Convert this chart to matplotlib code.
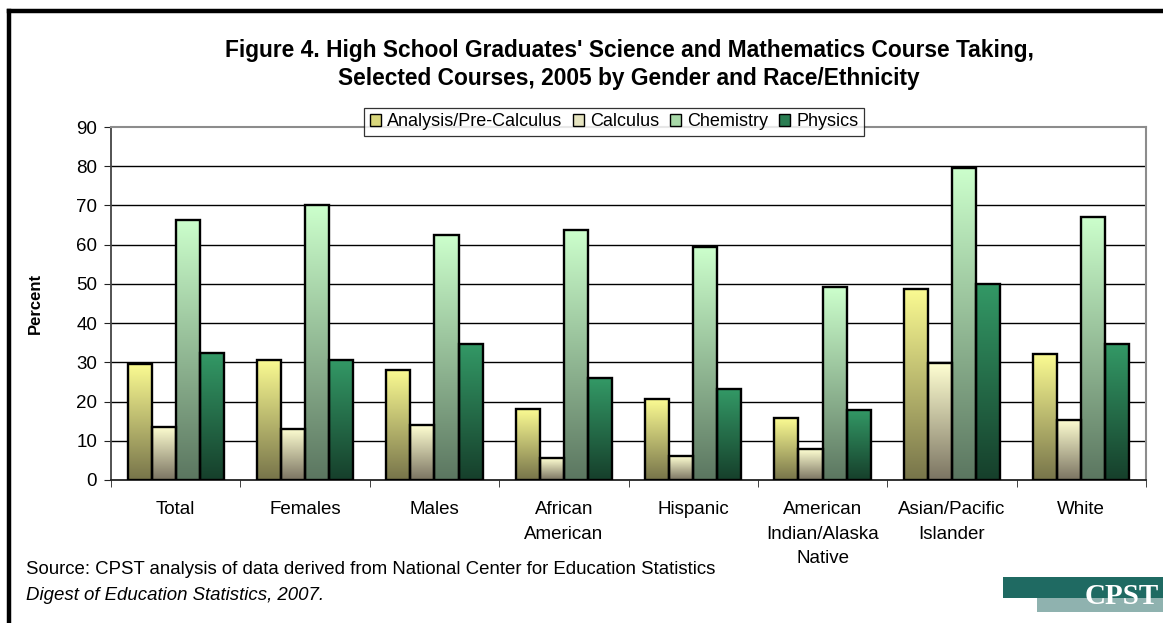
import numpy as np
import matplotlib
matplotlib.use("Agg")
import matplotlib.pyplot as plt
from matplotlib.colors import LinearSegmentedColormap
from matplotlib.patches import Rectangle
from matplotlib.lines import Line2D

plt.rcParams['font.family'] = ['Liberation Sans', 'DejaVu Sans']

categories = ["Total", "Females", "Males", "African\nAmerican", "Hispanic",
              "American\nIndian/Alaska\nNative", "Asian/Pacific\nIslander", "White"]
series_names = ["Analysis/Pre-Calculus", "Calculus", "Chemistry", "Physics"]
precalc = [29.5, 30.7, 28.1, 18.0, 20.6, 15.7, 48.7, 32.1]
calculus = [13.6, 13.1, 14.0, 5.6, 6.0, 7.8, 29.8, 15.3]
chemistry = [66.4, 70.0, 62.4, 63.7, 59.3, 49.1, 79.5, 67.1]
physics = [32.5, 30.7, 34.7, 26.0, 23.2, 17.9, 50.0, 34.6]
yticks = [0, 10, 20, 30, 40, 50, 60, 70, 80, 90]

# top (light) and bottom (dark) colours of each bar gradient
grad_colors = [
    ("#fbfb92", "#77744a"),
    ("#ffffd2", "#7b7462"),
    ("#ccffcc", "#5b7660"),
    ("#339966", "#163f2b"),
]
legend_colors = ["#d9d77c", "#e6e4c0", "#a8d9a8", "#2a7d52"]

fig = plt.figure(figsize=(11.63, 6.23), dpi=100)
ax = fig.add_axes([111 / 1163, 1 - 480 / 623, (1146 - 111) / 1163, (480 - 127) / 623])

n = len(categories)
x = np.arange(n)
bw = 0.186
values = [precalc, calculus, chemistry, physics]
grad = np.linspace(0, 1, 256).reshape(-1, 1)

for si, (vals, (ctop, cbot)) in enumerate(zip(values, grad_colors)):
    cmap = LinearSegmentedColormap.from_list(f"g{si}", [cbot, ctop])
    offs = (si - 1.5) * bw
    for xi, v in zip(x, vals):
        left = xi + offs - bw / 2
        im = ax.imshow(grad, cmap=cmap, aspect="auto", origin="lower",
                       extent=(left, left + bw, 0, v), zorder=3, interpolation="bilinear")
        rect = Rectangle((left, 0), bw, v, facecolor="none", edgecolor="black",
                         linewidth=1.7, zorder=4)
        ax.add_patch(rect)
        im.set_clip_path(rect)

ax.set_xlim(-0.5, n - 0.5)
ax.set_ylim(0, 90)
ax.set_yticks(yticks)
ax.set_yticklabels([str(t) for t in yticks], fontsize=13.5)
for t in yticks[1:-1]:
    ax.axhline(t, color="black", linewidth=1.0, zorder=1)

ax.set_xticks(x)
ax.set_xticklabels(categories, fontsize=13.5, linespacing=1.6, va="top")
ax.tick_params(axis="x", length=0, pad=15)
ax.set_xticks(np.arange(n + 1) - 0.5, minor=True)
ax.tick_params(axis="x", which="minor", length=5, direction="out", color="#222222")
ax.tick_params(axis="y", length=5, direction="out", color="#222222", pad=5)

for side in ["top", "right"]:
    ax.spines[side].set_color("#8c8c8c")
    ax.spines[side].set_linewidth(1.5)
ax.spines["left"].set_color("#444444")
ax.spines["bottom"].set_color("#222222")
ax.spines["left"].set_linewidth(1.3)
ax.spines["bottom"].set_linewidth(1.3)

ax.set_ylabel("Percent", fontsize=12, fontweight="bold", labelpad=24)

handles = [Rectangle((0, 0), 1, 1, facecolor=c, edgecolor="black", linewidth=1.0)
           for c in legend_colors]
leg = fig.legend(handles, series_names, loc="center", bbox_to_anchor=(614 / 1163, 1 - 122 / 623),
                 ncol=4, fontsize=13, frameon=True, fancybox=False, edgecolor="black",
                 handlelength=0.6, handleheight=0.6, handletextpad=0.35, columnspacing=0.6,
                 borderpad=0.3, borderaxespad=0)
leg.get_frame().set_linewidth(0.9)
leg.set_zorder(10)

fig.text(629 / 1163, 1 - 50 / 623,
         "Figure 4. High School Graduates' Science and Mathematics Course Taking,",
         ha="center", va="center", fontsize=16.4, fontweight="bold")
fig.text(629 / 1163, 1 - 78 / 623,
         "Selected Courses, 2005 by Gender and Race/Ethnicity",
         ha="center", va="center", fontsize=16.4, fontweight="bold")

fig.text(26 / 1163, 1 - 570 / 623,
         "Source: CPST analysis of data derived from National Center for Education Statistics",
         ha="left", va="center", fontsize=13.4)
fig.text(26 / 1163, 1 - 596 / 623, "Digest of Education Statistics, 2007.",
         ha="left", va="center", fontsize=13.4, style="italic")

# outer frame
fig.add_artist(Line2D([9 / 1163, 1], [1 - 11 / 623, 1 - 11 / 623], color="black",
                      linewidth=3.2, transform=fig.transFigure))
fig.add_artist(Line2D([9 / 1163, 9 / 1163], [0, 1 - 11 / 623], color="black",
                      linewidth=3.2, transform=fig.transFigure))

# CPST logo
fig.add_artist(Rectangle((1003 / 1163, 1 - 598 / 623), 160 / 1163, 21 / 623,
                         facecolor="#1f6a62", edgecolor="none", transform=fig.transFigure))
fig.add_artist(Rectangle((1037 / 1163, 1 - 612 / 623), 126 / 1163, 14 / 623,
                         facecolor="#8fb2af", edgecolor="none", transform=fig.transFigure))
fig.text(1159 / 1163, 1 - 596 / 623, "CPST", ha="right", va="center", fontsize=21,
         fontweight="bold", color="white", family="Liberation Serif")

fig.savefig("out.png", dpi=100)
